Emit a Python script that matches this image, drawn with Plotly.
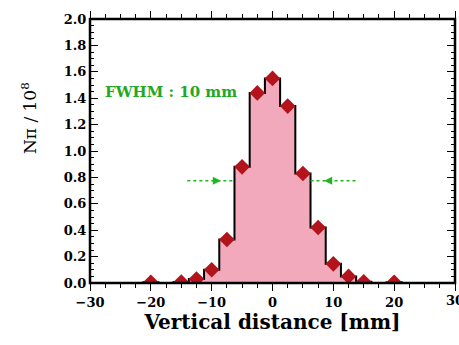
import plotly.graph_objects as go

# Measured pion yield per vertical position (units of 10^8)
positions = [-20, -15, -12.5, -10, -7.5, -5, -2.5, 0, 2.5, 5, 7.5, 10, 12.5, 15, 20]
counts = [0.005, 0.008, 0.03, 0.1, 0.33, 0.88, 1.44, 1.55, 1.34, 0.83, 0.42, 0.145, 0.05, 0.01, 0.005]

bin_width = 2.5
x_min, x_max = -30, 30
y_min, y_max = 0, 2.0

# FWHM marker: half maximum level and the two half-width positions
half_max = max(counts) / 2
fwhm_left = [-14, -6.25]
fwhm_right = [6.25, 14]
fwhm_arrow_x = [-8.5, 8.5]
fwhm_label = "FWHM : 10 mm"

# Histogram on a regular grid of bins (empty bins are zero)
n_bins = int((x_max - x_min) / bin_width) + 1
grid = [x_min + i * bin_width for i in range(n_bins)]
lookup = {p: c for p, c in zip(positions, counts)}
grid_vals = [lookup.get(g, 0.0) for g in grid]

serif = "DejaVu Serif"
green = "#1FB51F"

fig = go.Figure()

fig.add_trace(go.Scatter(
    x=grid, y=grid_vals, mode="lines", line_shape="hvh",
    line=dict(color="black", width=2),
    fill="tozeroy", fillcolor="#F2A9BC",
    hoverinfo="skip", showlegend=False,
))

fig.add_trace(go.Scatter(
    x=positions, y=counts, mode="markers",
    marker=dict(symbol="diamond", size=12, color="#B3141B"),
    showlegend=False,
))

for seg in (fwhm_left, fwhm_right):
    fig.add_trace(go.Scatter(
        x=seg, y=[half_max, half_max], mode="lines",
        line=dict(color=green, width=1.5, dash="dot"),
        showlegend=False, hoverinfo="skip",
    ))

fig.add_trace(go.Scatter(
    x=fwhm_arrow_x, y=[half_max, half_max], mode="markers",
    marker=dict(symbol=["arrow-right", "arrow-left"], size=8, color=green),
    showlegend=False, hoverinfo="skip",
))

fig.add_annotation(
    x=-27.8, y=1.45, xref="x", yref="y", text=fwhm_label, showarrow=False,
    xanchor="left", yanchor="middle",
    font=dict(family=serif, size=15, color="#22A822", weight="bold"),
)

# y-axis title, placed a little above the middle of the axis
fig.add_annotation(
    x=-0.167, y=0.625, xref="paper", yref="paper", text="Nπ / 10<sup>8</sup>",
    showarrow=False, textangle=-90, xanchor="center", yanchor="middle",
    font=dict(family=serif, size=17, color="black"),
)

# right-hand "30" label, partly cut by the page edge
fig.add_annotation(
    x=x_max, y=0, xref="x", yref="paper", text="30", showarrow=False,
    xanchor="center", yanchor="top", yshift=-8,
    font=dict(family=serif, size=13, color="black", weight="bold"),
)

# heavy frame around the plotting area
fig.add_shape(type="rect", xref="paper", yref="paper", x0=0, y0=0, x1=1, y1=1,
              line=dict(color="black", width=2.5), layer="above")

tick_font = dict(family=serif, size=13, color="black", weight="bold")
axis_common = dict(
    showline=True, linecolor="black", mirror="ticks",
    tickcolor="black", tickfont=tick_font,
)

fig.update_xaxes(
    range=[x_min, x_max], dtick=10, tick0=0, tickformat="d",
    ticks="outside", ticklen=7,
    minor=dict(dtick=2.5, ticks="outside", ticklen=4, tickcolor="black"),
    title=dict(text="Vertical distance [mm]", standoff=6,
               font=dict(family=serif, size=20, color="black", weight="bold")),
    **axis_common,
)
fig.update_yaxes(
    range=[y_min, y_max], dtick=0.2, tick0=0, tickformat=".1f",
    ticks="inside", ticklen=8,
    minor=dict(dtick=0.05, ticks="inside", ticklen=4, tickcolor="black"),
    **axis_common,
)

fig.update_layout(
    width=459, height=345,
    margin=dict(l=90, r=4, t=19, b=62),
    plot_bgcolor="white", paper_bgcolor="white",
)

fig.write_html("out.html")
